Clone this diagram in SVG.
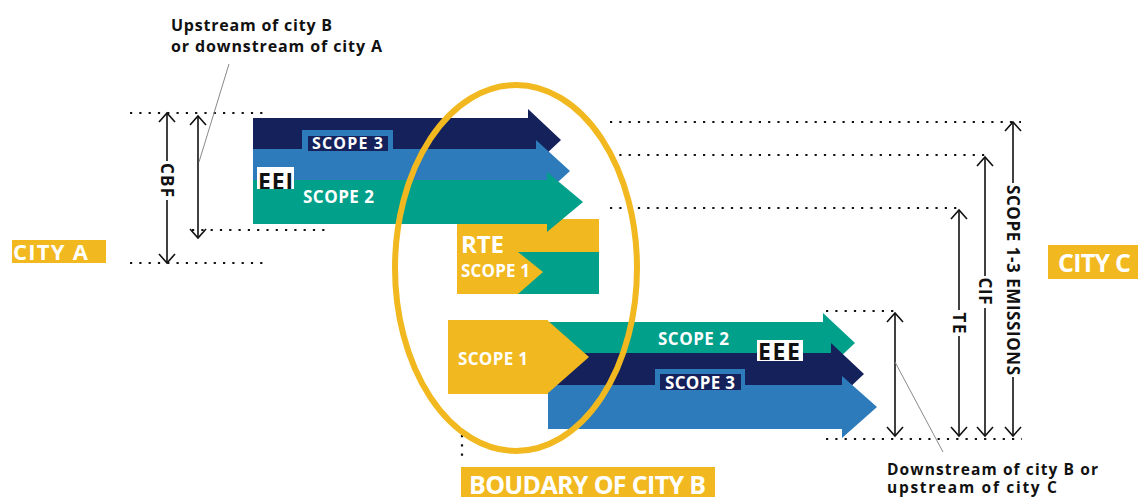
<svg xmlns="http://www.w3.org/2000/svg" width="1138" height="497" viewBox="0 0 1138 497">
  <style>
    .navy { fill: #15215b; }
    .blue { fill: #2d7bba; }
    .teal { fill: #00a08a; }
    .yellow { fill: #f1b91f; }
    .lbl { font-family: "Open Sans", "Liberation Sans", sans-serif; font-weight: 700; fill: #ffffff; }
    .blk { font-family: "Open Sans", "Liberation Sans", sans-serif; font-weight: 700; fill: #111111; }
    .dots { stroke: #111111; stroke-width: 2.2; stroke-dasharray: 2.2 7.1; fill: none; }
    .dim { stroke: #111111; stroke-width: 1.6; fill: none; marker-start: url(#chev); marker-end: url(#chev); }
    .lead { stroke: #8a8a8a; stroke-width: 1; fill: none; }
  </style>
  <defs>
    <marker id="chev" markerUnits="userSpaceOnUse" markerWidth="14" markerHeight="20" viewBox="-2 -10 14 20" refX="9" refY="0" orient="auto-start-reverse">
      <path d="M0,-8 L9,0 L0,8" fill="none" stroke="#111111" stroke-width="1.6"/>
    </marker>
    <clipPath id="eeiClip"><rect x="257" y="167" width="37" height="22"/></clipPath>
  </defs>

  <rect width="1138" height="497" fill="#ffffff"/>

  <!-- dotted guide lines and dimension arrows -->
  <g id="connectors">
    <line class="dots" x1="130" y1="113" x2="266" y2="113"/>
    <line class="dots" x1="130" y1="263" x2="266" y2="263"/>
    <line class="dots" x1="192" y1="230" x2="326" y2="230"/>
    <line class="dots" x1="610" y1="122" x2="1021" y2="122"/>
    <line class="dots" x1="610" y1="155" x2="990" y2="155"/>
    <line class="dots" x1="610" y1="208" x2="960" y2="208"/>
    <line class="dots" x1="826" y1="311" x2="896" y2="311"/>
    <line class="dots" x1="826" y1="439" x2="1022" y2="439"/>
    <line class="dots" x1="462" y1="435" x2="462" y2="458"/>

    <line class="dim" x1="167" y1="113" x2="167" y2="263"/>
    <line class="dim" x1="198" y1="116" x2="198" y2="238"/>
    <line class="dim" x1="895" y1="313" x2="895" y2="436"/>
    <line class="dim" x1="959" y1="210" x2="959" y2="436"/>
    <line class="dim" x1="985" y1="157" x2="985" y2="436"/>
    <line class="dim" x1="1013" y1="122" x2="1013" y2="436"/>

    <line class="lead" x1="229" y1="64" x2="199" y2="162"/>
    <line class="lead" x1="895" y1="362" x2="943" y2="452"/>
  </g>

  <!-- rotated dimension labels -->
  <g id="dim-labels">
    <rect x="159" y="161" width="16" height="39" fill="#ffffff"/>
    <text class="blk" font-size="17" text-anchor="middle" transform="translate(161,180) rotate(90)" textLength="34">CBF</text>
    <rect x="951" y="310" width="16" height="26" fill="#ffffff"/>
    <text class="blk" font-size="17" text-anchor="middle" transform="translate(953,323) rotate(90)" textLength="21">TE</text>
    <rect x="977" y="276" width="16" height="32" fill="#ffffff"/>
    <text class="blk" font-size="17" text-anchor="middle" transform="translate(979,291) rotate(90)" textLength="27">CIF</text>
    <rect x="1005" y="183" width="16" height="194" fill="#ffffff"/>
    <text class="blk" font-size="17" text-anchor="middle" transform="translate(1007,280) rotate(90)" textLength="190">SCOPE 1-3 EMISSIONS</text>
  </g>

  <!-- RTE block inside city B -->
  <g id="rte">
    <rect class="yellow" x="457" y="219" width="142" height="75"/>
    <rect class="teal" x="518" y="252" width="81" height="42"/>
    <polygon class="yellow" points="518,252 543,272 518,294"/>
    <text class="lbl" x="461" y="253" font-size="24" textLength="43">RTE</text>
    <text class="lbl" x="461" y="277" font-size="17" textLength="69">SCOPE 1</text>
  </g>

  <!-- flows entering city B -->
  <g id="eei">
    <polygon class="navy" points="253,118 528,118 528,109 561,140 528,171 528,162 253,162"/>
    <polygon class="blue" points="253,149 536,149 536,140 570,171 536,202 536,193 253,193"/>
    <polygon class="teal" points="253,180 547,180 547,172 583,202 547,232 547,224 253,224"/>
    <rect class="blue" x="302" y="130" width="91" height="20"/>
    <rect class="navy" x="308" y="136" width="80" height="15"/>
    <text class="lbl" x="312" y="149" font-size="16" textLength="71">SCOPE 3</text>
    <text class="lbl" x="303" y="203" font-size="17" textLength="71">SCOPE 2</text>
    <rect x="257" y="167" width="37" height="22" fill="#ffffff"/>
    <text class="blk" x="258" y="190" font-size="23" fill="#000000" clip-path="url(#eeiClip)" textLength="35">EEI</text>
  </g>

  <!-- flows leaving city B -->
  <g id="eee">
    <polygon class="teal" points="548,322 823,322 823,313 855,343 823,373 823,364 548,364"/>
    <polygon class="navy" points="548,353 831,353 831,343 864,374 831,405 831,395 548,395"/>
    <polygon class="blue" points="548,385 842,385 842,376 877,407 842,438 842,429 548,429"/>
    <text class="lbl" x="658" y="345" font-size="17" textLength="71">SCOPE 2</text>
    <rect class="blue" x="655" y="369" width="90" height="20"/>
    <rect class="navy" x="660" y="374" width="81" height="16"/>
    <text class="lbl" x="665" y="389" font-size="17" textLength="70">SCOPE 3</text>
    <rect x="757" y="340" width="46" height="21" fill="#ffffff"/>
    <text class="blk" x="758" y="359.5" font-size="23" fill="#000000" textLength="42">EEE</text>
  </g>

  <!-- city B own scope 1 -->
  <g id="scope1-b">
    <rect class="yellow" x="448" y="320" width="100" height="74"/>
    <polygon class="yellow" points="547,320 589,357 547,394"/>
    <text class="lbl" x="458" y="365" font-size="17" textLength="70">SCOPE 1</text>
  </g>

  <!-- city B boundary -->
  <g id="boundary">
    <ellipse cx="516" cy="268" rx="121" ry="183" fill="none" stroke="#f1b91f" stroke-width="6"/>
    <rect class="yellow" x="461" y="467" width="254" height="30"/>
    <text class="lbl" x="469" y="494" font-size="25" textLength="237">BOUDARY OF CITY B</text>
  </g>

  <g id="city-a">
    <rect class="yellow" x="12" y="240" width="94" height="23"/>
    <text class="lbl" x="13" y="260" font-size="22" textLength="75">CITY A</text>
  </g>

  <g id="city-c">
    <rect class="yellow" x="1048" y="245" width="90" height="34"/>
    <text class="lbl" x="1058" y="272" font-size="25" textLength="73">CITY C</text>
  </g>

  <g id="note-upstream">
    <text class="blk" x="171" y="31" font-size="16" textLength="161">Upstream of city B</text>
    <text class="blk" x="171" y="52" font-size="16" textLength="211">or downstream of city A</text>
  </g>

  <g id="note-downstream">
    <text class="blk" x="887" y="475" font-size="15.5" textLength="211">Downstream of city B or</text>
    <text class="blk" x="887" y="493" font-size="15.5" textLength="170">upstream of city C</text>
  </g>
</svg>
